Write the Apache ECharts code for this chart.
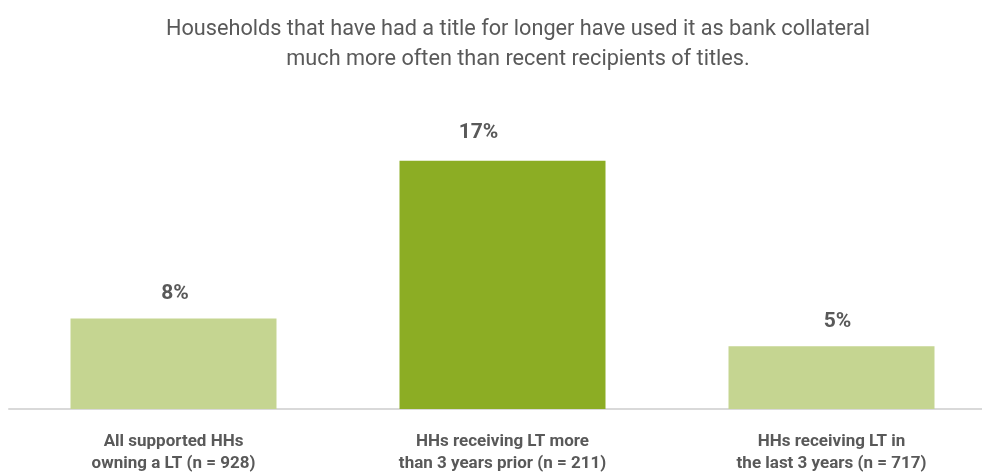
<!DOCTYPE html>
<html>
<head>
<meta charset="utf-8">
<script src="https://cdn.jsdelivr.net/npm/echarts@6/dist/echarts.min.js"></script>
<style>
html,body{margin:0;padding:0;background:#fff;}
#main{width:982px;height:475px;}
</style>
</head>
<body>
<div id="main"></div>
<script>
// categories (x axis labels)
var categories=[
	'All supported HHs\nowning a LT (n = 928)',
	'HHs receiving LT more\nthan 3 years prior (n = 211)',
	'HHs receiving LT in\nthe last 3 years (n = 717)'
];
// bar heights (share of households, %)
var shareValues=[6.2,17,4.3];
// printed labels above the bars
var valueLabels=['8%','17%','5%'];
var titleText='Households that have had a title for longer have used it as bank collateral\nmuch more often than recent recipients of titles.';

var font='Roboto,sans-serif';
var lightGreen='#c5d591';
var darkGreen='#8cad24';
var labelGap=[14,18,14];     //距离柱顶的间距
var labelShift=[1.5,-24,6];  //标签水平偏移

var chart=echarts.init(document.getElementById('main'));
var seriesData=[];
for(var i=0;i<shareValues.length;i++){
	seriesData.push({
		value:shareValues[i],
		itemStyle:{color:i==1?darkGreen:lightGreen},
		label:{distance:labelGap[i],offset:[labelShift[i],0]}
	});
}
var option={
	backgroundColor:'#ffffff',
	animation:false,
	title:{
		text:titleText,
		left:513,
		textAlign:'center',
		top:10,
		textStyle:{
			fontFamily:font,
			fontSize:21.7,
			fontWeight:'normal',
			color:'#595959',
			lineHeight:30
		}
	},
	grid:{
		left:9,
		width:987,
		top:117,
		bottom:66,
		outerBoundsMode:'none'
	},
	xAxis:{
		type:'category',
		data:categories,
		axisLine:{lineStyle:{color:'#d9d9d9',width:2}},
		axisTick:{show:false},
		axisLabel:{
			fontFamily:font,
			fontSize:17,
			fontWeight:'bold',
			color:'#595959',
			lineHeight:22,
			margin:22
		}
	},
	yAxis:{
		type:'value',
		min:0,
		max:20,
		show:false,
		splitLine:{show:false}
	},
	series:[{
		type:'bar',
		data:seriesData,
		barWidth:206,
		label:{
			show:true,
			position:'top',
			fontFamily:font,
			fontSize:21,
			fontWeight:'bold',
			color:'#595959',
			formatter:function(p){return valueLabels[p.dataIndex];}
		}
	}]
};
chart.setOption(option);
</script>
</body>
</html>
